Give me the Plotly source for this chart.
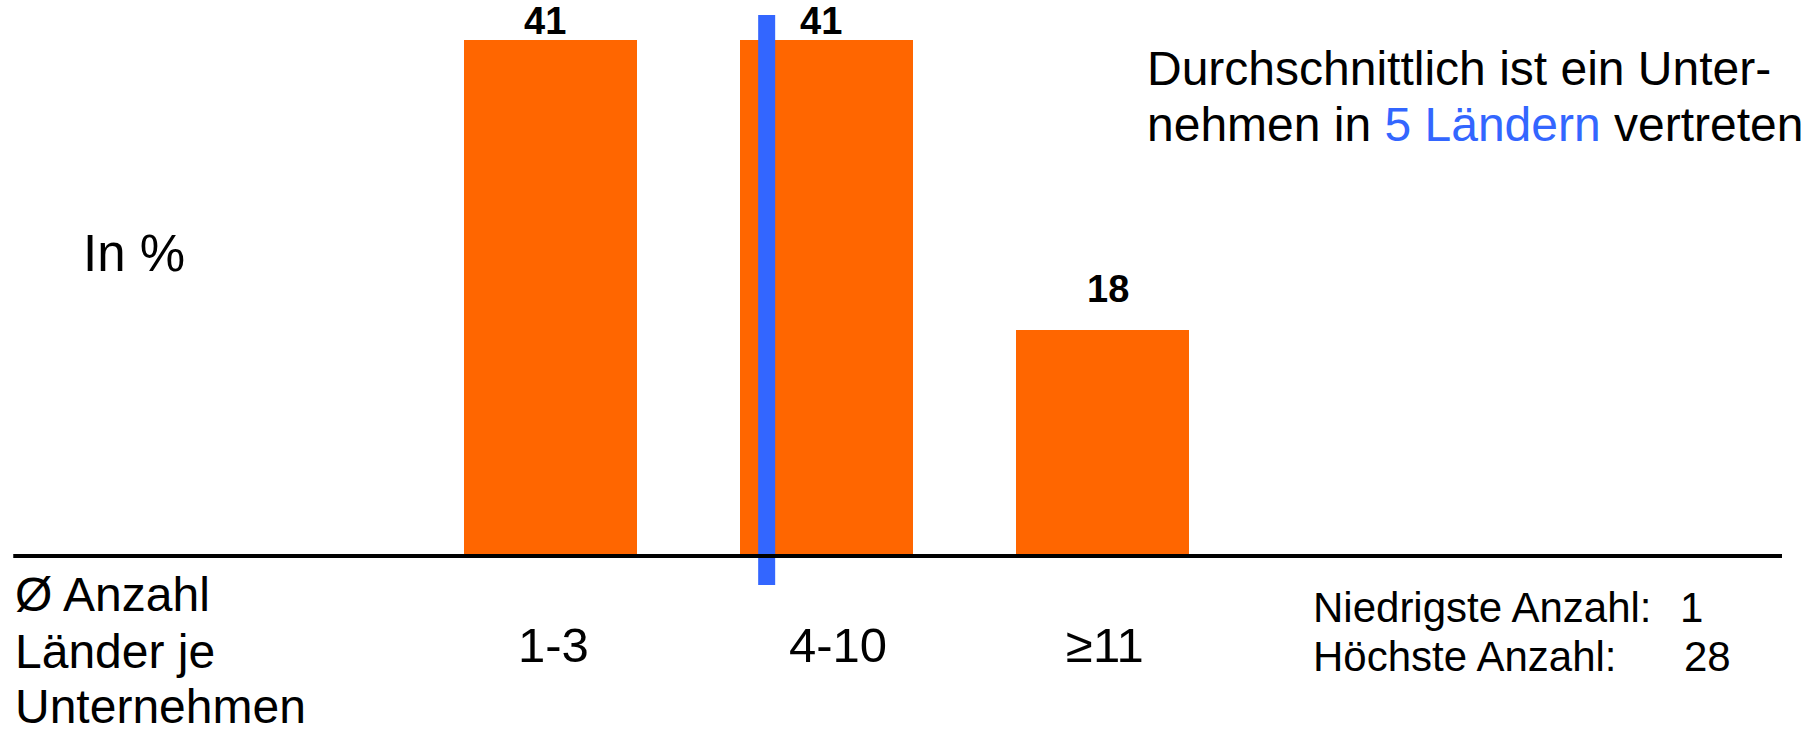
import plotly.graph_objects as go

# ---- data ----
categories = ["1-3", "4-10", "≥11"]
values = [41, 41, 18]
avg_countries = 5
min_countries = 1
max_countries = 28

W, H = 1814, 732
FONT = "Liberation Sans, Arial, sans-serif"
ORANGE = "#FF6600"
BLUE = "#3366FF"

xpos = list(range(len(categories)))

fig = go.Figure()
fig.add_trace(go.Bar(x=xpos, y=values, width=0.627, marker_color=ORANGE,
                     marker_line_width=0, showlegend=False, hoverinfo="skip"))

# average marker (5 countries lies inside the 4-10 group, left of its centre)
avg_x = 0.783
fig.add_trace(go.Scatter(x=[avg_x, avg_x], y=[-2.3, 43.0], mode="lines",
                         line=dict(color=BLUE, width=17), showlegend=False,
                         hoverinfo="skip"))

shapes = [dict(type="line", xref="x", yref="y", x0=-1.947, x1=4.462, y0=0, y1=0,
               line=dict(color="black", width=4), layer="above")]

ann = []
# bar value labels
label_shift = [0, 0, 22]
label_dx = [-0.02, -0.02, 0.02]
for x, v, s, dx in zip(xpos, values, label_shift, label_dx):
    ann.append(dict(x=x + dx, y=v, xref="x", yref="y", text=f"<b>{v}</b>",
                    showarrow=False, yanchor="bottom", yshift=s - 4,
                    font=dict(size=38, color="black", family=FONT)))
# category labels
for x, c in zip(xpos, categories):
    ann.append(dict(x=x + (0.04 if c == "4-10" else 0.01), y=0, xref="x", yref="y", text=c,
                    showarrow=False, yanchor="middle", yshift=-89,
                    font=dict(size=49, color="black", family=FONT)))

def txt(x_px, baseline_px, text, size, color="black"):
    # place text by approximate baseline
    yc = baseline_px - 0.36 * size
    ann.append(dict(x=x_px / W, y=1 - yc / H, xref="paper", yref="paper",
                    text=text, showarrow=False, xanchor="left", yanchor="middle",
                    borderpad=0,
                    font=dict(size=size, color=color, family=FONT)))

txt(82, 272, "In %", 51)
txt(1146, 86, "Durchschnittlich ist ein Unter-", 48)
txt(1146, 142, f"nehmen in <span style='color:{BLUE}'>{avg_countries} Ländern</span> vertreten", 48)
txt(14, 612, "Ø Anzahl", 48)
txt(14, 669, "Länder je", 48)
txt(14, 724, "Unternehmen", 48)
txt(1312, 623, "Niedrigste Anzahl:", 42)
txt(1312, 672, "Höchste Anzahl:", 42)
txt(1679, 623, f"{min_countries}", 42)
txt(1683, 672, f"{max_countries}", 42)

fig.update_layout(
    width=W, height=H, margin=dict(l=0, r=0, t=0, b=0),
    paper_bgcolor="white", plot_bgcolor="white",
    xaxis=dict(range=[-1.995, 4.578], visible=False, fixedrange=True),
    yaxis=dict(range=[-13.99, 44.2], visible=False, fixedrange=True),
    shapes=shapes, annotations=ann, bargap=0,
    font=dict(family=FONT),
)
fig.write_html("out.html")
